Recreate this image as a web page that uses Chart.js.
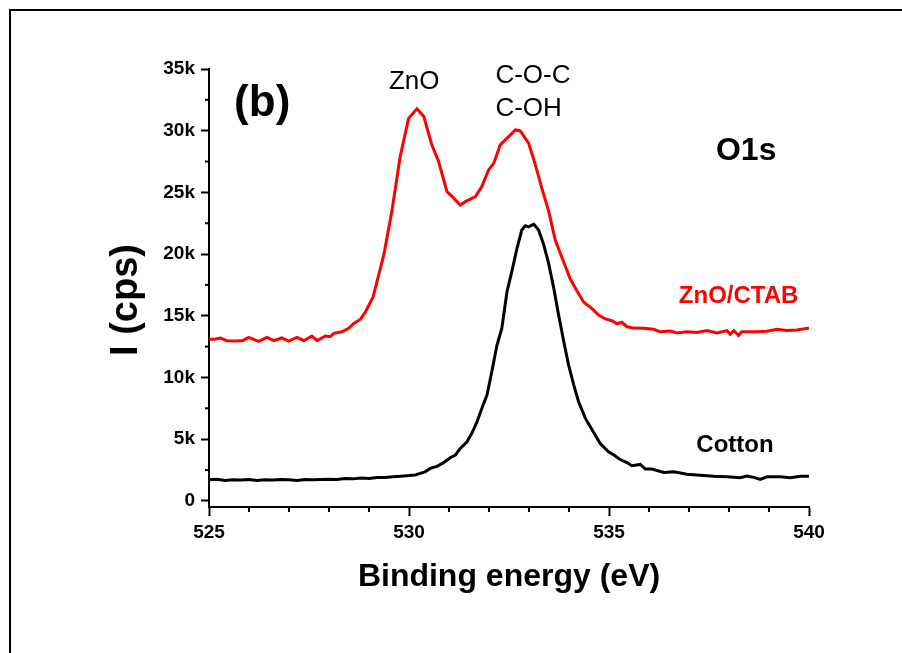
<!DOCTYPE html>
<html><head><meta charset="utf-8">
<script src="https://cdn.jsdelivr.net/npm/chart.js@4.4.1/dist/chart.umd.min.js"></script>
<style>
html,body{margin:0;padding:0;background:#fff;}
#wrap{position:relative;width:902px;height:653px;overflow:hidden;background:#fff;}
#frame{position:absolute;left:9px;top:9px;width:1000px;height:1000px;border-left:2.5px solid #000;border-top:2.5px solid #000;}
canvas{position:absolute;left:0;top:0;}
</style></head><body>
<div id="wrap"><div id="frame"></div><canvas id="c" width="902" height="653"></canvas></div>
<script>
// ---- data (binding energy in eV, intensity in cps) ----
const ctabX = [525.00,525.15,525.28,525.45,525.70,525.85,525.99,526.24,526.45,526.62,526.82,526.99,527.20,527.37,527.57,527.70,527.91,528.03,528.12,528.32,528.49,528.62,528.78,528.91,529.10,529.37,529.57,529.78,529.99,530.20,530.37,530.57,530.74,530.95,531.12,531.28,531.41,531.66,531.82,531.99,532.12,532.28,532.49,532.66,532.78,532.99,533.16,533.32,533.49,533.66,533.85,534.03,534.20,534.37,534.57,534.74,534.91,535.07,535.20,535.32,535.45,535.62,535.87,536.12,536.28,536.53,536.70,536.95,537.20,537.45,537.70,537.95,538.03,538.12,538.24,538.32,538.45,538.70,538.95,539.20,539.45,539.70,540.00];
const ctabY = [13100,13100,13200,12980,12950,13000,13250,12920,13250,12980,13200,12950,13250,12980,13360,12980,13360,13300,13570,13700,13980,14380,14700,15300,16500,19930,23440,27900,31000,31770,31150,28850,27500,25060,24530,23980,24250,24660,25470,26820,27360,28850,29520,30060,29980,28990,27230,25340,23500,21100,19500,18000,17000,16100,15600,15060,14740,14600,14350,14470,14110,14000,13980,13900,13700,13760,13600,13700,13650,13800,13600,13800,13500,13800,13400,13700,13700,13700,13750,13900,13800,13850,14000];
const cottonX = [525.0,525.2,525.4,525.6,525.8,526.0,526.2,526.4,526.6,526.8,527.0,527.2,527.4,527.6,527.8,528.0,528.2,528.4,528.6,528.8,529.0,529.2,529.4,529.6,529.8,530.0,530.15,530.28,530.4,530.53,530.7,530.87,531.03,531.16,531.28,531.45,531.57,531.7,531.82,531.95,532.07,532.2,532.32,532.45,532.57,532.7,532.82,532.91,532.99,533.12,533.24,533.37,533.49,533.62,533.74,533.87,533.99,534.12,534.24,534.41,534.57,534.78,534.99,535.12,535.28,535.45,535.57,535.78,535.91,536.07,536.37,536.62,536.95,537.28,537.62,537.95,538.28,538.45,538.62,538.78,538.95,539.28,539.53,539.78,540.0];
const cottonY = [1700,1750,1650,1700,1680,1720,1650,1700,1680,1720,1700,1650,1720,1700,1720,1750,1720,1800,1780,1850,1820,1900,1900,1950,2000,2050,2100,2220,2350,2630,2790,3110,3490,3700,4250,4790,5470,6400,7490,8570,10460,12630,13980,16950,18570,20470,21950,22300,22200,22420,21950,20740,19250,17220,15060,12900,11000,9380,8030,6680,5800,4650,3970,3710,3350,3100,2840,2950,2570,2570,2300,2350,2160,2080,2000,1950,1870,2000,1900,1730,1950,1950,1870,2000,2000];
const xMajor = [525,530,535,540];
const xMinor = [526,527,528,529,531,532,533,534,536,537,538,539];
const yMajor = [0,5000,10000,15000,20000,25000,30000,35000];
const yMinor = [2500,7500,12500,17500,22500,27500,32500];
const seriesNames = ['ZnO/CTAB','Cotton'];

const FONT = '"Liberation Sans", Arial, Helvetica, sans-serif';
const notes = [
  {t:'(b)', x:526.33, y:32170, f:'bold 44px '+FONT, c:'#000', a:'center'},
  {t:'ZnO', x:530.13, y:33920, f:'26px '+FONT, c:'#000', a:'center'},
  {t:'C-O-C', x:532.16, y:34420, f:'26px '+FONT, c:'#000', a:'left'},
  {t:'C-OH', x:532.16, y:31780, f:'26px '+FONT, c:'#000', a:'left'},
  {t:'O1s', x:538.43, y:28360, f:'bold 32px '+FONT, c:'#000', a:'center'},
  {t:seriesNames[0], x:538.24, y:16580, f:'bold 24px '+FONT, c:'#ff0000', a:'center'},
  {t:seriesNames[1], x:538.15, y:4480, f:'bold 24px '+FONT, c:'#000', a:'center'}
];

const extras = {
  id:'extras',
  afterDraw(chart){
    const {ctx, scales:{x,y}} = chart;
    ctx.save();
    ctx.strokeStyle='#000'; ctx.lineWidth=2;
    xMinor.forEach(v=>{const px=x.getPixelForValue(v);ctx.beginPath();ctx.moveTo(px,x.top);ctx.lineTo(px,x.top+5);ctx.stroke();});
    yMinor.forEach(v=>{const py=y.getPixelForValue(v);ctx.beginPath();ctx.moveTo(y.right,py);ctx.lineTo(y.right-4,py);ctx.stroke();});
    ctx.textBaseline='middle';
    notes.forEach(n=>{ctx.font=n.f;ctx.fillStyle=n.c;ctx.textAlign=n.a;ctx.fillText(n.t,x.getPixelForValue(n.x),y.getPixelForValue(n.y));});
    // y axis title
    ctx.font='bold 38px '+FONT; ctx.fillStyle='#000'; ctx.textAlign='center'; ctx.textBaseline='alphabetic';
    ctx.translate(137,300); ctx.rotate(-Math.PI/2); ctx.fillText('I (cps)',0,0);
    ctx.restore();
  }
};

const toPts = (xs,ys)=>xs.map((v,i)=>({x:v,y:ys[i]}));

new Chart(document.getElementById('c'), {
  type:'line',
  data:{datasets:[
    {label:seriesNames[0], data:toPts(ctabX,ctabY), borderColor:'#ff0000', borderWidth:3, pointRadius:0, tension:0, fill:false},
    {label:seriesNames[1], data:toPts(cottonX,cottonY), borderColor:'#000000', borderWidth:3, pointRadius:0, tension:0, fill:false}
  ]},
  options:{
    responsive:false, animation:false, devicePixelRatio:1,
    layout:{padding:{top:69,right:93,left:0,bottom:0}},
    plugins:{legend:{display:false}, tooltip:{enabled:false}},
    scales:{
      x:{type:'linear', min:525, max:540,
        afterBuildTicks:s=>{s.ticks=xMajor.map(v=>({value:v}));},
        afterFit:s=>{s.height=146;},
        grid:{drawOnChartArea:false, drawTicks:true, tickLength:9, tickWidth:2, tickColor:'#000'},
        border:{display:true, color:'#000', width:2},
        ticks:{color:'#000', padding:5, font:{family:FONT, size:19, weight:'bold'}, maxRotation:0, autoSkip:false},
        title:{display:true, text:'Binding energy (eV)', color:'#000', font:{family:FONT, size:32, weight:'bold'}, padding:{top:0,bottom:57}}
      },
      y:{type:'linear', min:-500, max:35000,
        afterBuildTicks:s=>{s.ticks=yMajor.map(v=>({value:v}));},
        afterFit:s=>{s.width=209;},
        grid:{drawOnChartArea:false, drawTicks:true, tickLength:8, tickWidth:2, tickColor:'#000'},
        border:{display:true, color:'#000', width:2},
        ticks:{color:'#000', padding:6, font:{family:FONT, size:19, weight:'bold'}, autoSkip:false,
          callback:v=> v===0 ? '0' : (v/1000)+'k'}
      }
    }
  },
  plugins:[extras]
});
</script>
</body></html>
